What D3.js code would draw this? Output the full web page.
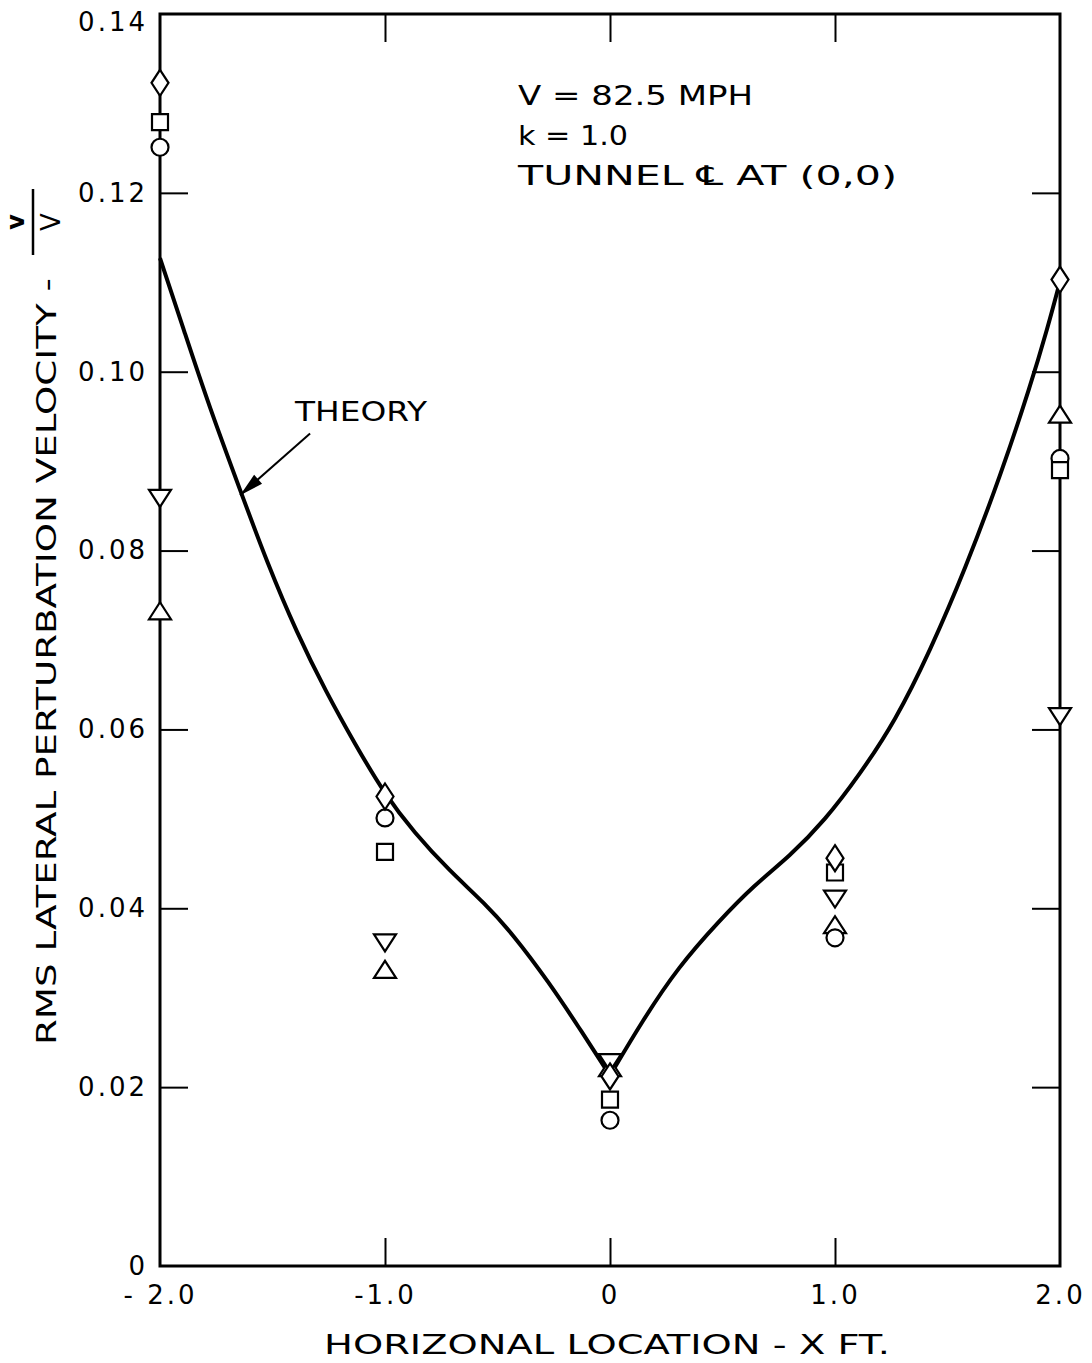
<!DOCTYPE html>
<html>
<head>
<meta charset="utf-8">
<script src="https://cdn.jsdelivr.net/npm/d3@7"></script>
<style>
  body { margin: 0; background: #fff; }
  text { font-family: "DejaVu Sans", sans-serif; fill: #000; }
</style>
</head>
<body>
<svg id="chart"></svg>
<script>
// ---- data ----
let stations = [-2, -1, 0, 1, 2]
let circleVals  = [0.1251, 0.0501, 0.0163, 0.0367, 0.0903]
let squareVals  = [0.1279, 0.0463, 0.0186, 0.0440, 0.0890]
let diamondVals = [0.1323, 0.0525, 0.0212, 0.0456, 0.1103]
let downTriVals = [0.0860, 0.0363, 0.0229, 0.0412, 0.0616]
let upTriVals   = [0.0731, 0.0330, 0.0220, 0.0380, 0.0951]

let theoryX = [-2, -1.888, -1.784, -1.640, -1.523, -1.392, -1.262, -1.132, -1.0, -0.871, -0.714, -0.558, -0.428, -0.271, -0.141, 0,
               0.146, 0.302, 0.485, 0.641, 0.798, 0.954, 1.111, 1.267, 1.423, 1.580, 1.737, 1.867, 1.945, 2.0]
let theoryV = [0.1127, 0.1042, 0.0963, 0.0865, 0.0786, 0.0708, 0.0642, 0.0583, 0.0527, 0.0485, 0.0442, 0.0406, 0.0370, 0.0317, 0.0268, 0.0213,
               0.0275, 0.0334, 0.0386, 0.0426, 0.0458, 0.0498, 0.0550, 0.0609, 0.0688, 0.0780, 0.0885, 0.0983, 0.1049, 0.1101]

let xTicks = [-2, -1, 0, 1, 2]
let xTickLabels = ["- 2.0", "-1.0", "0", "1.0", "2.0"]
let yTicks = [0, 0.02, 0.04, 0.06, 0.08, 0.10, 0.12, 0.14]
let yTickLabels = ["0", "0.02", "0.04", "0.06", "0.08", "0.10", "0.12", "0.14"]

let notes = ["V = 82.5 MPH", "k = 1.0", "TUNNEL \u2104  AT (0,0)"]

// ---- layout ----
let width = 1092
let height = 1363
let padL = 160, padR = 1060, padT = 14, padB = 1266

let svg = d3.select('#chart').attr('width', width).attr('height', height)

let xScale = d3.scaleLinear().domain([-2, 2]).range([padL, padR])
let yScale = d3.scaleLinear().domain([0, 0.14]).range([padB, padT])

// axes (ticks point inward)
let styleAxis = g => {
    g.select('.domain').remove()
    g.selectAll('.tick line').attr('stroke', '#000').attr('stroke-width', 2)
    g.selectAll('.tick text')
        .style('font-family', '"DejaVu Sans", sans-serif')
        .style('font-size', '26px')
        .style('letter-spacing', '3px')
        .attr('fill', '#000')
}

svg.append('g')
    .attr('transform', 'translate(' + padL + ',0)')
    .call(d3.axisLeft(yScale).tickValues(yTicks).tickSize(-28).tickPadding(12)
        .tickFormat((d, i) => yTickLabels[i]))
    .call(styleAxis)
    .call(g => g.selectAll('.tick').filter(d => d == 0 || d == 0.14).select('line').remove())
    .call(g => g.selectAll('.tick').filter(d => d == 0.14).select('text').attr('dy', '0.65em'))

svg.append('g')
    .attr('transform', 'translate(' + padR + ',0)')
    .call(d3.axisRight(yScale).tickValues(yTicks.slice(1, -1)).tickSize(-28).tickFormat(''))
    .call(styleAxis)

svg.append('g')
    .attr('transform', 'translate(0,' + padB + ')')
    .call(d3.axisBottom(xScale).tickValues(xTicks).tickSize(-28).tickPadding(20)
        .tickFormat((d, i) => xTickLabels[i]))
    .call(styleAxis)
    .call(g => g.selectAll('.tick').filter(d => d == -2 || d == 2).select('line').remove())

svg.append('g')
    .attr('transform', 'translate(0,' + padT + ')')
    .call(d3.axisTop(xScale).tickValues(xTicks.slice(1, -1)).tickSize(-28).tickFormat(''))
    .call(styleAxis)

// frame
svg.append('rect')
    .attr('x', padL).attr('y', padT)
    .attr('width', padR - padL).attr('height', padB - padT)
    .attr('fill', 'none').attr('stroke', '#000').attr('stroke-width', 3)

// theory curve, two branches meeting in a cusp at x = 0
let theory = theoryX.map((x, i) => ({x: x, v: theoryV[i]}))
let line = d3.line().x(d => xScale(d.x)).y(d => yScale(d.v)).curve(d3.curveBasis)
svg.append('path').datum(theory.filter(d => d.x <= 0))
    .attr('d', line).attr('fill', 'none').attr('stroke', '#000').attr('stroke-width', 4)
svg.append('path').datum(theory.filter(d => d.x >= 0))
    .attr('d', line).attr('fill', 'none').attr('stroke', '#000').attr('stroke-width', 4)

// THEORY label + arrow
let arrowFrom = [-1.333, 0.0931]
let arrowTo = [-1.644, 0.0862]
let x1 = xScale(arrowFrom[0]), y1 = yScale(arrowFrom[1])
let x2 = xScale(arrowTo[0]), y2 = yScale(arrowTo[1])
svg.append('line').attr('x1', x1).attr('y1', y1).attr('x2', x2).attr('y2', y2)
    .attr('stroke', '#000').attr('stroke-width', 2)
let ang = Math.atan2(y2 - y1, x2 - x1)
let headLen = 24, headW = 6
let bx = x2 - headLen * Math.cos(ang), by = y2 - headLen * Math.sin(ang)
svg.append('path')
    .attr('d', 'M' + x2 + ',' + y2 +
        'L' + (bx - headW * Math.sin(ang)) + ',' + (by + headW * Math.cos(ang)) +
        'L' + (bx + headW * Math.sin(ang)) + ',' + (by - headW * Math.cos(ang)) + 'Z')
    .attr('fill', '#000')
svg.append('text')
    .attr('x', xScale(-1.40)).attr('y', yScale(0.0945))
    .attr('textLength', 132).attr('lengthAdjust', 'spacingAndGlyphs')
    .style('font-size', '27px')
    .text('THEORY')

// markers
let shapes = {
    circle: (x, y) => 'M' + (x + 8.5) + ',' + y + 'A8.5,8.5 0 1,1 ' + (x - 8.5) + ',' + y + 'A8.5,8.5 0 1,1 ' + (x + 8.5) + ',' + y + 'Z',
    square: (x, y) => 'M' + (x - 8) + ',' + (y - 8) + 'h16v16h-16Z',
    diamond: (x, y) => 'M' + x + ',' + (y - 13) + 'L' + (x + 8.5) + ',' + y + 'L' + x + ',' + (y + 13) + 'L' + (x - 8.5) + ',' + y + 'Z',
    downTri: (x, y) => 'M' + (x - 11) + ',' + (y - 7) + 'h22L' + x + ',' + (y + 10) + 'Z',
    upTri: (x, y) => 'M' + (x - 11) + ',' + (y + 7) + 'h22L' + x + ',' + (y - 10) + 'Z'
}
let series = [
    {shape: 'upTri', vals: upTriVals},
    {shape: 'downTri', vals: downTriVals},
    {shape: 'circle', vals: circleVals},
    {shape: 'square', vals: squareVals},
    {shape: 'diamond', vals: diamondVals}
]
series.forEach(s => {
    svg.append('g').selectAll('path')
        .data(s.vals)
        .enter()
        .append('path')
        .attr('d', (v, i) => shapes[s.shape](xScale(stations[i]), yScale(v)))
        .attr('fill', '#fff')
        .attr('stroke', '#000')
        .attr('stroke-width', 2.2)
})

// notes
svg.selectAll('.note')
    .data(notes)
    .enter()
    .append('text')
    .attr('class', 'note')
    .attr('x', 518)
    .attr('y', (d, i) => 105 + i * 40)
    .attr('textLength', (d, i) => [235, 110, 379][i])
    .attr('lengthAdjust', 'spacingAndGlyphs')
    .style('font-size', '27px')
    .text(d => d)

// axis titles
svg.append('text')
    .attr('x', (padL + padR) / 2 - 3).attr('y', 1354)
    .attr('text-anchor', 'middle')
    .attr('textLength', 566).attr('lengthAdjust', 'spacingAndGlyphs')
    .style('font-size', '26px')
    .text('HORIZONAL LOCATION - X FT.')

svg.append('text')
    .attr('transform', 'translate(56,1045) rotate(-90)')
    .attr('textLength', 767).attr('lengthAdjust', 'spacingAndGlyphs')
    .style('font-size', '26px')
    .text('RMS LATERAL PERTURBATION VELOCITY -')

let frac = svg.append('g').attr('transform', 'translate(33,222) rotate(-90)')
frac.append('line').attr('x1', -33).attr('x2', 33).attr('y1', 0).attr('y2', 0)
    .attr('stroke', '#000').attr('stroke-width', 2.5)
frac.append('text').attr('x', 0).attr('y', -9).attr('text-anchor', 'middle')
    .style('font-size', '24px').style('font-weight', 'bold').text('v')
frac.append('text').attr('x', 0).attr('y', 27).attr('text-anchor', 'middle')
    .style('font-size', '26px').text('V')
</script>
</body>
</html>
